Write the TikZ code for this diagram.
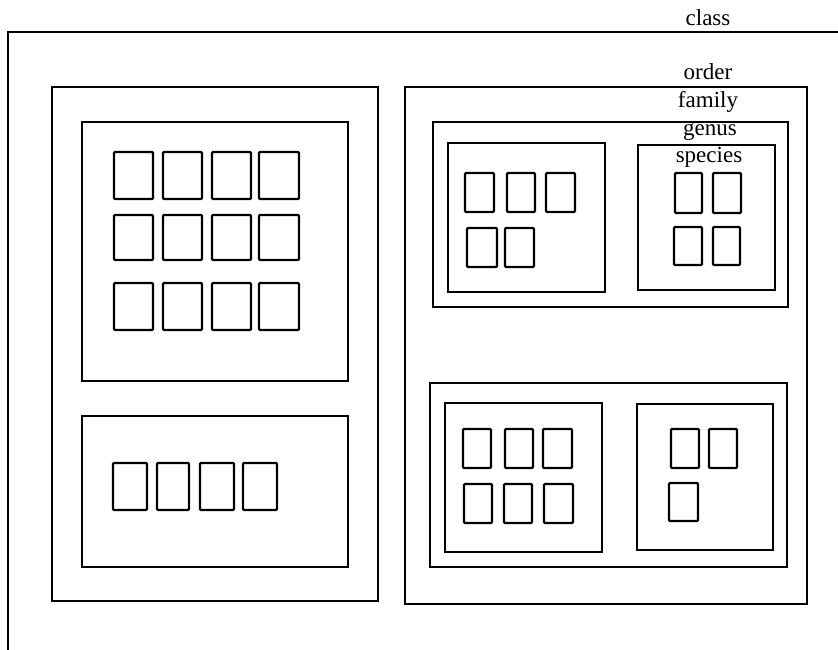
\documentclass[tikz,border=0pt]{standalone}
\usepackage{fontspec}
\setmainfont{Liberation Serif}
\begin{document}
\begin{tikzpicture}[x=1pt,y=-1pt,
  outer/.style={draw=black,line width=1.8pt},
  grp/.style={draw=black,line width=1.8pt},
  sp/.style={draw=black,line width=2.3pt,rounded corners=1pt},
  lbl/.style={font=\fontsize{23}{23}\selectfont,inner sep=0pt,anchor=base}]
\useasboundingbox (0,0) rectangle (838,650);
\begin{scope}
\clip (0,0) rectangle (838,650);
% class
\draw[outer] (8,32) rectangle (860,680);
\end{scope}
\node[lbl] (lclass) at (708,26) {class};
% left order
\draw[outer] (52,87) rectangle (378,601);
\draw[grp] (82,122) rectangle (348,381);
\foreach \r/\ya/\yb in {1/152/199,2/215/260,3/283/330}{
  \foreach \xa/\xb in {114/153,163/202,212/251,259/299}{
    \draw[sp] (\xa,\ya) rectangle (\xb,\yb);
  }
}
\draw[grp] (82,416) rectangle (348,567);
\foreach \xa/\xb in {113/147,157/189,200/234,243/277}{
  \draw[sp] (\xa,463) rectangle (\xb,510);
}
% right order
\draw[outer] (405,87) rectangle (807,604);
\node[lbl] (lorder) at (708,80) {order};
\draw[grp] (433,122) rectangle (788,307);
\node[lbl] (lfamily) at (708,108) {family};
\node[lbl] (lgenus) at (710,136) {genus};
\draw[grp] (448,143) rectangle (605,292);
\draw[sp] (465,173) rectangle (494,212);
\draw[sp] (507,173) rectangle (535,212);
\draw[sp] (546,173) rectangle (575,212);
\draw[sp] (467,228) rectangle (497,267);
\draw[sp] (505,228) rectangle (534,267);
\draw[grp] (638,145) rectangle (775,290);
\node[lbl] (lspecies) at (709,163) {species};
\draw[sp] (675,173) rectangle (702,213);
\draw[sp] (713,173) rectangle (741,213);
\draw[sp] (674,227) rectangle (702,265);
\draw[sp] (713,227) rectangle (740,265);
% right family 2
\draw[grp] (430,383) rectangle (787,567);
\draw[grp] (445,403) rectangle (602,552);
\draw[sp] (463,429) rectangle (491,468);
\draw[sp] (505,429) rectangle (533,468);
\draw[sp] (543,429) rectangle (572,468);
\draw[sp] (464,484) rectangle (492,523);
\draw[sp] (504,484) rectangle (532,523);
\draw[sp] (544,484) rectangle (573,523);
\draw[grp] (637,404) rectangle (773,550);
\draw[sp] (671,429) rectangle (699,468);
\draw[sp] (709,429) rectangle (737,468);
\draw[sp] (669,483) rectangle (698,521);
\end{tikzpicture}
\end{document}
